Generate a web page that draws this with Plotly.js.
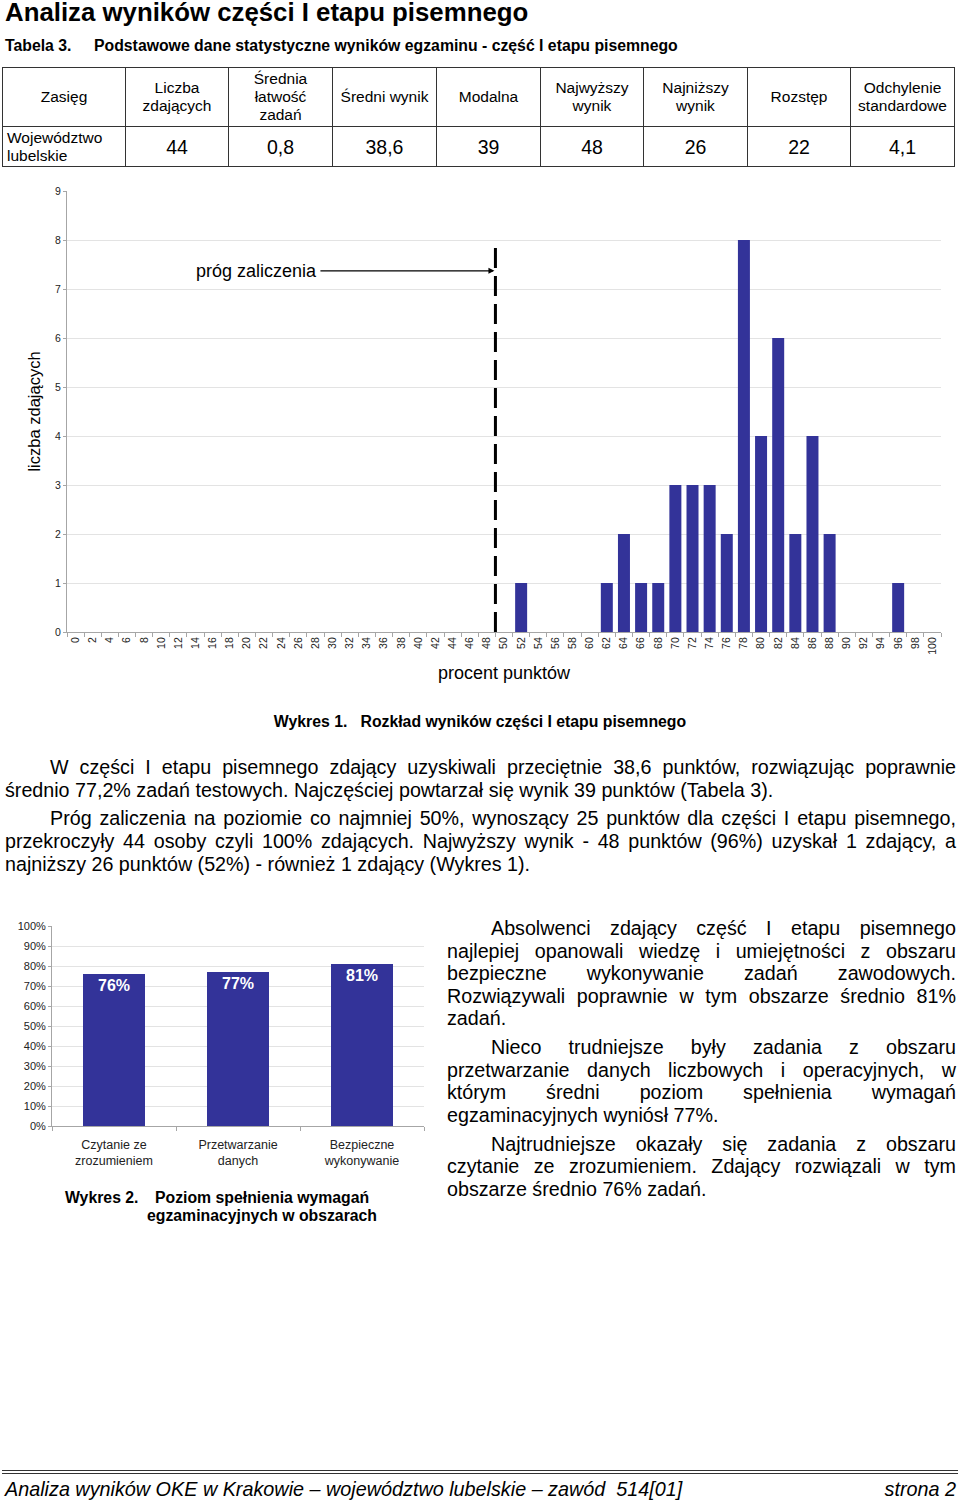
<!DOCTYPE html>
<html lang="pl">
<head>
<meta charset="utf-8">
<script src="https://cdn.plot.ly/plotly-3.0.1.min.js"></script>
<style>
  html, body { margin:0; padding:0; background:#fff; }
  body { width:960px; height:1503px; position:relative; font-family: Arial, "Liberation Sans", sans-serif; color:#000; overflow:hidden; }
  .abs { position:absolute; }
  #title { left:5px; top:-1px; font-size:25.8px; line-height:27px; font-weight:bold; white-space:nowrap; }
  #tabcap { left:5px; top:37px; font-size:15.8px; font-weight:bold; white-space:nowrap; }
  #tabcap span { display:inline-block; width:89px; }
  table { position:absolute; left:2px; top:67px; border-collapse:collapse; table-layout:fixed; width:952px; }
  td { border:1.5px solid #333; text-align:center; padding:0; }
  tr.h td { height:58px; font-size:15.5px; line-height:18px; }
  tr.d td { height:38px; font-size:19.5px; padding-top:1px; }
  tr.d td.first { font-size:15.5px; text-align:left; padding-left:4px; line-height:18px; }
  #cap1 { left:0; width:960px; top:713px; text-align:center; font-size:15.8px; font-weight:bold; white-space:pre; }
  #para1 { left:5px; width:951px; top:756px; font-size:19.7px; line-height:23px; text-align:justify; }
  #para1 p { margin:0 0 5px 0; text-indent:45px; }
  #right { left:447px; width:509px; top:917px; font-size:19.7px; line-height:22.5px; text-align:justify; }
  #right p { margin:0 0 6.5px 0; text-indent:44px; }
  #cap2 { left:65px; top:1189px; font-size:15.8px; font-weight:bold; line-height:18px; }
  #foot1 { left:2px; width:956px; top:1470px; height:0; border-top:1.5px solid #333; }
  #foot2 { left:2px; width:956px; top:1473px; height:0; border-top:1.5px solid #333; }
  #foot { left:5px; width:951px; top:1478px; font-style:italic; font-size:19.8px; white-space:pre; }
  #foot .r { position:absolute; right:0; top:0; }
</style>
</head>
<body>
<div id="title" class="abs">Analiza wyników części I etapu pisemnego</div>
<div id="tabcap" class="abs"><span>Tabela 3.</span>Podstawowe dane statystyczne wyników egzaminu - część I etapu pisemnego</div>
<table id="tab"></table>

<div id="chart1" class="abs" style="left:0;top:180px;width:960px;height:520px;"></div>
<div id="cap1" class="abs">Wykres 1.   Rozkład wyników części I etapu pisemnego</div>

<div id="para1" class="abs">
<p>W części I etapu pisemnego zdający uzyskiwali przeciętnie 38,6 punktów, rozwiązując poprawnie średnio 77,2% zadań testowych. Najczęściej powtarzał się wynik 39 punktów (Tabela 3).</p>
<p>Próg zaliczenia na poziomie co najmniej 50%, wynoszący 25 punktów dla części I etapu pisemnego, przekroczyły 44 osoby czyli 100% zdających. Najwyższy wynik - 48 punktów (96%) uzyskał 1 zdający, a najniższy 26 punktów (52%) - również 1 zdający (Wykres 1).</p>
</div>

<div id="chart2" class="abs" style="left:0;top:910px;width:440px;height:270px;"></div>
<div id="cap2" class="abs"><span style="display:inline-block;width:90px;">Wykres 2.</span>Poziom spełnienia wymagań<br><span style="display:inline-block;width:82px;"></span>egzaminacyjnych w obszarach</div>

<div id="right" class="abs">
<p>Absolwenci zdający część I etapu pisemnego najlepiej opanowali wiedzę i umiejętności z obszaru bezpieczne wykonywanie zadań zawodowych. Rozwiązywali poprawnie w tym obszarze średnio 81% zadań.</p>
<p>Nieco trudniejsze były zadania z obszaru przetwarzanie danych liczbowych i operacyjnych, w którym średni poziom spełnienia wymagań egzaminacyjnych wyniósł 77%.</p>
<p>Najtrudniejsze okazały się zadania z obszaru czytanie ze zrozumieniem. Zdający rozwiązali w tym obszarze średnio 76% zadań.</p>
</div>

<div id="foot1" class="abs"></div>
<div id="foot2" class="abs"></div>
<div id="foot" class="abs">Analiza wyników OKE w Krakowie – województwo lubelskie – zawód  514[01]<span class="r">strona 2</span></div>

<script>
// ---- Table 3 data ----
const tableHeaders = ["Zasięg", "Liczba<br>zdających", "Średnia<br>łatwość<br>zadań", "Średni wynik", "Modalna", "Najwyższy<br>wynik", "Najniższy<br>wynik", "Rozstęp", "Odchylenie<br>standardowe"];
const tableRegion = "Województwo<br>lubelskie";
const tableValues = ["44", "0,8", "38,6", "39", "48", "26", "22", "4,1"];
const colWidths = [123, 103, 104, 104, 104, 103, 104, 103, 104];

// ---- Chart 1 data: distribution of results ----
const scorePercent = [0,2,4,6,8,10,12,14,16,18,20,22,24,26,28,30,32,34,36,38,40,42,44,46,48,50,52,54,56,58,60,62,64,66,68,70,72,74,76,78,80,82,84,86,88,90,92,94,96,98,100];
const examineeCount = [0,0,0,0,0,0,0,0,0,0,0,0,0,0,0,0,0,0,0,0,0,0,0,0,0,0,1,0,0,0,0,1,2,1,1,3,3,3,2,8,4,6,2,4,2,0,0,0,1,0,0];
const passThresholdBoundary = 49;   // drawn between the 48 and 50 bins
const thresholdLineTop = 8;
const thresholdLabel = "próg zaliczenia";

// ---- Chart 2 data: level of requirements met ----
const areaLabels = ["Czytanie ze<br>zrozumieniem", "Przetwarzanie<br>danych", "Bezpieczne<br>wykonywanie"];
const areaPercent = [76, 77, 81];

const BAR = "#333399";

// build table
(function(){
  const t = document.getElementById("tab");
  let cg = "<colgroup>" + colWidths.map(w => `<col style="width:${w}px">`).join("") + "</colgroup>";
  let h = "<tr class='h'>" + tableHeaders.map(x => `<td>${x}</td>`).join("") + "</tr>";
  let d = "<tr class='d'><td class='first'>" + tableRegion + "</td>" + tableValues.map(x => `<td>${x}</td>`).join("") + "</tr>";
  t.innerHTML = cg + h + d;
})();

const fontFam = "Arial, 'Liberation Sans', sans-serif";

Plotly.newPlot("chart1", [{
  type: "bar",
  x: scorePercent,
  y: examineeCount,
  marker: { color: BAR, line: { width: 0 } },
  hoverinfo: "x+y"
}], {
  width: 960, height: 520,
  margin: { l: 67, r: 19, t: 11, b: 68 },
  paper_bgcolor: "#fff", plot_bgcolor: "#fff",
  bargap: 0.3,
  showlegend: false,
  font: { family: fontFam, color: "#000" },
  xaxis: {
    range: [-1, 101], tickmode: "linear", tick0: 0, dtick: 2,
    tickangle: -90, ticks: "", showgrid: false, zeroline: false,
    showline: true, linecolor: "#a6a6a6", linewidth: 1,
    tickfont: { size: 10.5, color: "#222" },
    minor: { tick0: 1, dtick: 2, ticks: "outside", ticklen: 4, tickcolor: "#a6a6a6", showgrid: false },
    title: { text: "procent punktów", font: { size: 18 }, standoff: 12 },
    fixedrange: true
  },
  yaxis: {
    range: [0, 9], dtick: 1, tickmode: "linear", tick0: 0,
    showgrid: true, gridcolor: "#e3e3e3", gridwidth: 1, zeroline: false,
    showline: true, linecolor: "#a6a6a6", linewidth: 1,
    ticks: "outside", ticklen: 3, tickcolor: "#a6a6a6",
    tickfont: { size: 10.5, color: "#222" },
    title: { text: "liczba zdających", font: { size: 16.5 }, standoff: 10 },
    fixedrange: true
  },
  shapes: [{
    type: "line", xref: "x", yref: "y",
    x0: passThresholdBoundary, x1: passThresholdBoundary, y0: 0, y1: thresholdLineTop,
    line: { color: "#000", width: 3, dash: "20px,8px" }
  }],
  annotations: [{
    xref: "x", yref: "y", x: passThresholdBoundary, y: 7.37,
    axref: "pixel", ayref: "pixel", ax: -239, ay: 0,
    text: thresholdLabel, showarrow: true,
    arrowhead: 2, arrowsize: 1, arrowwidth: 1.2, arrowcolor: "#000",
    standoff: 1, startstandoff: 0,
    font: { size: 18, color: "#000", family: fontFam },
    borderpad: 3
  }]
}, { displayModeBar: false, staticPlot: true });

Plotly.newPlot("chart2", [{
  type: "bar",
  x: areaLabels,
  y: areaPercent,
  marker: { color: BAR },
  text: areaPercent.map(v => v + "%"),
  textposition: "inside",
  insidetextanchor: "end",
  textangle: 0,
  textfont: { color: "#fff", size: 16, family: fontFam, weight: "bold" },
  hoverinfo: "x+y"
}], {
  width: 440, height: 270,
  margin: { l: 52, r: 16, t: 16, b: 54 },
  paper_bgcolor: "#fff", plot_bgcolor: "#fff",
  bargap: 0.5,
  showlegend: false,
  font: { family: fontFam, color: "#000" },
  xaxis: {
    type: "category", tickson: "boundaries", ticks: "outside", ticklen: 4,
    tickcolor: "#a6a6a6", showline: true, linecolor: "#a6a6a6",
    showgrid: false, tickfont: { size: 12.5, color: "#222" },
    ticklabelstandoff: 7, fixedrange: true
  },
  yaxis: {
    range: [0, 100], dtick: 10, tick0: 0, tickmode: "linear", ticksuffix: "%",
    showgrid: true, gridcolor: "#e3e3e3", zeroline: false,
    showline: true, linecolor: "#a6a6a6", ticks: "outside", ticklen: 3, tickcolor: "#a6a6a6",
    tickfont: { size: 11, color: "#222" }, fixedrange: true
  }
}, { displayModeBar: false, staticPlot: true });
</script>
</body>
</html>
